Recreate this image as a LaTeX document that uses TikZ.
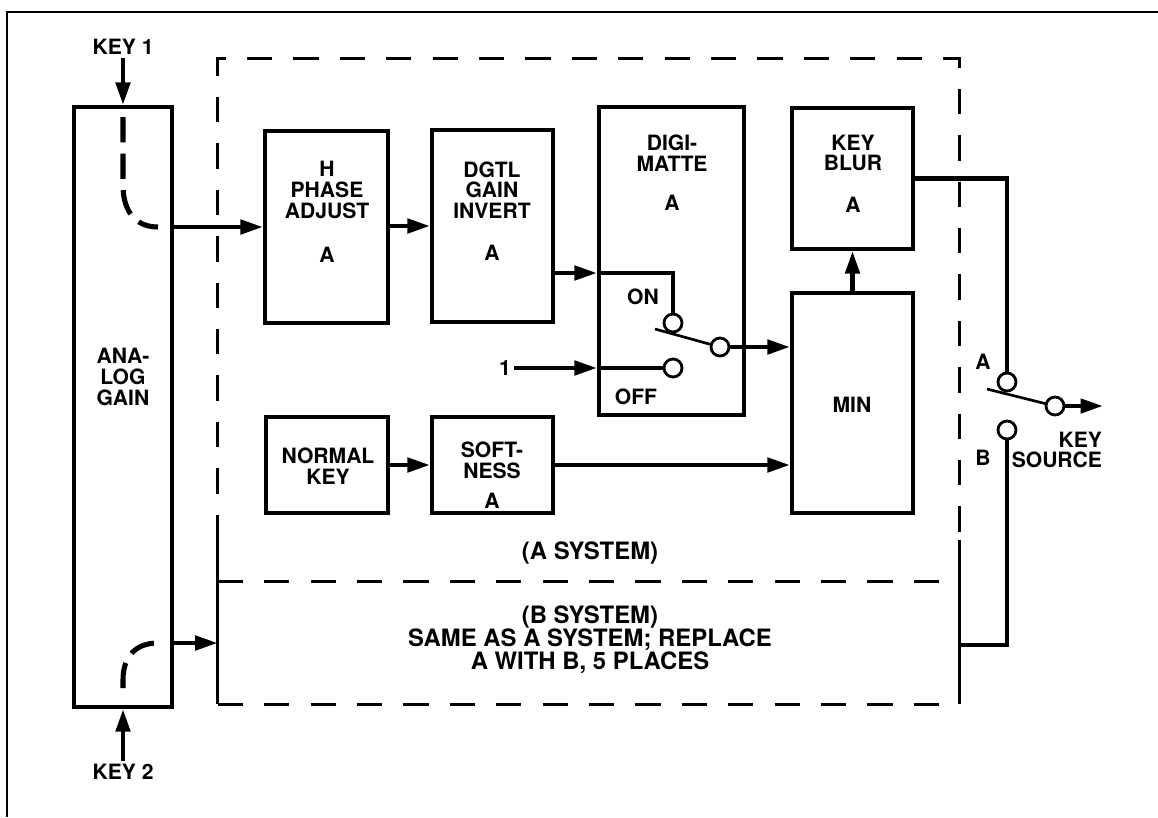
\documentclass[tikz,border=0pt]{standalone}
\usepackage{fontspec}
\setmainfont{TeX Gyre Heros}
\usetikzlibrary{positioning,fit,arrows.meta}

\tikzset{
  blk/.style={draw, line width=2.9pt, inner sep=0pt},
  sysbox/.style={inner sep=0pt},
  lbl/.style={font=\bfseries\fontsize{15}{14.8}\selectfont, align=center, inner sep=2pt},
  syslbl/.style={font=\bfseries\fontsize{17}{16.4}\selectfont, align=center},
  sig/.style={line width=3.2pt, -{Triangle[length=16pt,width=10pt]}},
  bus/.style={line width=3.4pt},
  lever/.style={line width=1.9pt},
  contact/.style={circle, draw, fill=white, line width=2pt, minimum size=0.45cm, inner sep=0pt},
  sysline/.style={line width=1.9pt},
  sysdash/.style={sysline, dash pattern=on 18pt off 15pt},
  route/.style={line width=3.6pt, dash pattern=on 18pt off 8pt}
}

\begin{document}
\begin{tikzpicture}[x=0.025cm, y=-0.025cm]
\useasboundingbox (0,0) rectangle (1158,817);

% --- FRAME ---
\draw[sysline] (1158,12) -- (7,12) -- (7,817);

% --- SYSTEM AREAS ---
\node[sysbox, fit={(218,59) (959,582)}] (asys) {};
\node[sysbox, fit={(218,582) (959,704)}] (bsys) {};
\draw[sysdash] (asys.west |- 0,540) -- (asys.north west) -- (asys.north east) -- (asys.east |- 0,540);
\draw[sysline] (asys.west |- 0,540) -- (bsys.south west);
\draw[sysline] (asys.east |- 0,540) -- (bsys.south east);
\draw[sysdash] (bsys.north west) -- (bsys.north east);
\draw[sysdash] (bsys.south west) -- (bsys.south east);

% --- BLOCKS ---
\node[blk, fit={(74,107) (172,707)}] (aga) {};
\node[blk, fit={(265,131) (388,323)}] (hpa) {};
\node[blk, fit={(432,130) (553,322)}] (dgi) {};
\node[blk, fit={(599,107) (744,415)}] (dm) {};
\node[blk, fit={(792,108) (913,249)}] (kb) {};
\node[blk, fit={(792,293) (913,513)}] (mn) {};
\node[blk, fit={(266,417) (388,513)}] (nk) {};
\node[blk, fit={(432,417) (553,513)}] (sf) {};

% --- BLOCK TEXT ---
\node[lbl] (agatxt) at (123,377) {ANA-\\LOG\\GAIN};
\node[lbl] (hpatxt) at (327,190) {H\\PHASE\\ADJUST};
\node[lbl] (hpaa) at (327,255) {A};
\node[lbl] (dgitxt) at (492,190) {DGTL\\GAIN\\INVERT};
\node[lbl] (dgia) at (492,253) {A};
\node[lbl] (dmtxt) at (672,153) {DIGI-\\MATTE};
\node[lbl] (dma) at (672,203) {A};
\node[lbl] (kbtxt) at (853,153) {KEY\\BLUR};
\node[lbl] (kba) at (853,205) {A};
\node[lbl] (mntxt) at (852,405) {MIN};
\node[lbl] (nktxt) at (328,466) {NORMAL\\KEY};
\node[lbl] (sftxt) at (492,460) {SOFT-\\NESS};
\node[lbl] (sfa) at (492,501) {A};
\node[syslbl] (atxt) at (590,553) {(A SYSTEM)};
\node[syslbl] (btxt) at (590,640) {(B SYSTEM)\\SAME AS A SYSTEM; REPLACE\\A WITH B, 5 PLACES};

% --- KEY INPUTS ---
\node[lbl] (k1) at (123,47) {KEY 1};
\node[lbl] (k2) at (123,772) {KEY 2};
\draw[sig] (k1) -- (aga);
\draw[sig] (k2) -- (aga);
\draw[route] (123,117) -- (123,185) .. controls (123,212) and (136,227) .. (158,227);
\draw[route] (123,688) -- (123,680) .. controls (123,656) and (136,643) .. (158,643);

% --- A CHAIN ---
\draw[sig] (aga.east |- hpa.west) -- (hpa.west);
\draw[sig] (hpa.east |- dgi.west) -- (dgi.west);
\draw[sig] (nk) -- (sf);
\draw[sig] (sf.east) -- (mn.west |- sf.east);
\draw[sig] (mn) -- (kb);
\draw[sig] (aga.east |- 0,643) -- (bsys.west |- 0,643);

% --- DIGI-MATTE SWITCH ---
\node[contact] (on) at (673,323) {};
\node[contact] (off) at (673,368) {};
\node[contact] (piv) at (720,347) {};
\node[lbl] (ontxt) at (643,297) {ON};
\node[lbl] (offtxt) at (636,397) {OFF};
\node[lbl] (one) at (505,368) {1};
\draw[sig] (dgi.east |- 0,273) -- (dm.west |- 0,273);
\draw[bus] (dm.west |- 0,273) -| (on);
\draw[sig] (one) -- (dm.west |- one);
\draw[bus] (dm.west |- one) -- (off);
\draw[lever] (655,329) -- (piv);
\draw[sig] (piv) -- (mn.west |- piv);

% --- KEY SOURCE SWITCH ---
\node[contact] (ca) at (1007,382) {};
\node[contact] (cb) at (1007,430) {};
\node[contact] (piv2) at (1055,406) {};
\coordinate (ks) at (1103,406);
\node[lbl] (catxt) at (983,362) {A};
\node[lbl] (cbtxt) at (983,458) {B};
\node[lbl, align=right, anchor=east] (kstxt) at (1105,450) {KEY\\SOURCE};
\draw[bus] (kb) -| (ca);
\draw[bus] (bsys.east |- 0,645) -| (cb);
\draw[lever] (987,389) -- (piv2);
\draw[sig] (piv2) -- (ks);

\end{tikzpicture}
\end{document}
